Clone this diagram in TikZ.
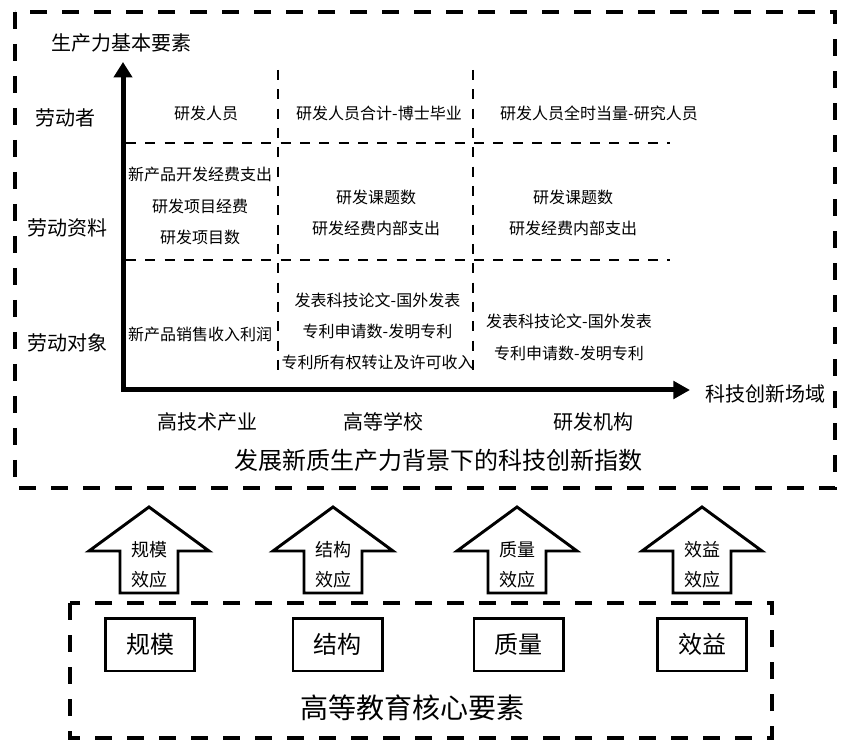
\documentclass[tikz,border=0pt]{standalone}
\usepackage{fontspec}
\newfontfamily\cjk{Noto Sans CJK SC}
\usetikzlibrary{arrows.meta}
\begin{document}
\begin{tikzpicture}[x=0.75pt,y=-0.75pt,
  every node/.style={inner sep=0pt, outer sep=0pt},
  outerdash/.style={line width=3pt, dash pattern=on 12.75pt off 11.25pt},
  griddash/.style={line width=1.9pt, dash pattern=on 7.5pt off 7pt},
  axis/.style={line width=3.75pt},
  txt/.style={font=\cjk\fontsize{12pt}{23.5pt}\selectfont, align=center},
  lbl/.style={font=\cjk\fontsize{15pt}{18pt}\selectfont},
  arrtxt/.style={font=\cjk\fontsize{13.5pt}{22.5pt}\selectfont, align=center},
  elbox/.style={draw, line width=2pt, minimum width=67pt, minimum height=39.5pt, font=\cjk\fontsize{18pt}{20pt}\selectfont},
  blockarrow/.style={draw, line width=2.2pt, line join=miter, fill=white},
  bigtitle/.style={font=\cjk\fontsize{18pt}{20pt}\selectfont},
  lowtitle/.style={font=\cjk\fontsize{21pt}{24pt}\selectfont}
]
\useasboundingbox[fill=white] (0,0) rectangle (843,741);

% outer boxes
\draw[outerdash] (15,12) rectangle (835,488);
\draw[outerdash] (70,603) rectangle (772,738);

% grid
\coordinate (v1t) at (278,70); \coordinate (v1b) at (278,378);
\coordinate (v2t) at (473,70); \coordinate (v2b) at (473,378);
\coordinate (h1l) at (126,143); \coordinate (h1r) at (670,143);
\coordinate (h2l) at (126,260); \coordinate (h2r) at (670,260);
\draw[griddash] (v1t) -- (v1b);
\draw[griddash] (v2t) -- (v2b);
\draw[griddash] (h1l) -- (h1r);
\draw[griddash] (h2l) -- (h2r);

% axes
\coordinate (ytop) at (123,62);
\coordinate (origin) at (123,390);
\coordinate (xend) at (690,390);
\draw[axis, {Triangle[length=11.5pt,width=13.5pt]}-{Triangle[length=12.5pt,width=13pt]}] (ytop) -- (origin) -- (xend);

% axis labels
\node[lbl] (yl) at (121.5,43) {生产力基本要素};
\node[lbl] (xl) at (765,394) {科技创新场域};
\node[lbl] (r1) at (66,118) {劳动者};
\node[lbl] (r2) at (67,228) {劳动资料};
\node[lbl] (r3) at (67,343) {劳动对象};
\node[lbl] (c1) at (207,422) {高技术产业};
\node[lbl] (c2) at (383,422) {高等学校};
\node[lbl] (c3) at (593,422) {研发机构};
\node[bigtitle] (title) at (438,460) {发展新质生产力背景下的科技创新指数};

% cells
\node[txt] (a11) at (206,113) {研发人员};
\node[txt] (a12) at (379,113) {研发人员合计-博士毕业};
\node[txt] (a13) at (599,113) {研发人员全时当量-研究人员};
\node[txt] (a21) at (200,206) {新产品开发经费支出\\研发项目经费\\研发项目数};
\node[txt] (a22) at (376,213) {研发课题数\\研发经费内部支出};
\node[txt] (a23) at (573,213) {研发课题数\\研发经费内部支出};
\node[txt] (a31) at (200,334) {新产品销售收入利润};
\node[txt] (a32) at (377.5,331.5) {发表科技论文-国外发表\\专利申请数-发明专利\\专利所有权转让及许可收入};
\node[txt] (a33) at (569,337.5) {发表科技论文-国外发表\\专利申请数-发明专利};

% block arrows and element boxes
\foreach \n/\cx/\ta/\tb/\bx/\bt in {1/149/规模/效应/150/规模, 2/333/结构/效应/337.5/结构, 3/517/质量/效应/518.5/质量, 4/702/效益/效应/702/效益}{
  \draw[blockarrow] (\cx,507) -- (\cx+60,551) -- (\cx+29,551) -- (\cx+29,593) -- (\cx-29,593) -- (\cx-29,551) -- (\cx-60,551) -- cycle;
  \node[arrtxt] (ar\n) at (\cx,565) {\ta\\\tb};
  \node[elbox] (el\n) at (\bx,644.5) {\bt};
}
\node[lowtitle] (lowt) at (412,708) {高等教育核心要素};
\end{tikzpicture}
\end{document}
